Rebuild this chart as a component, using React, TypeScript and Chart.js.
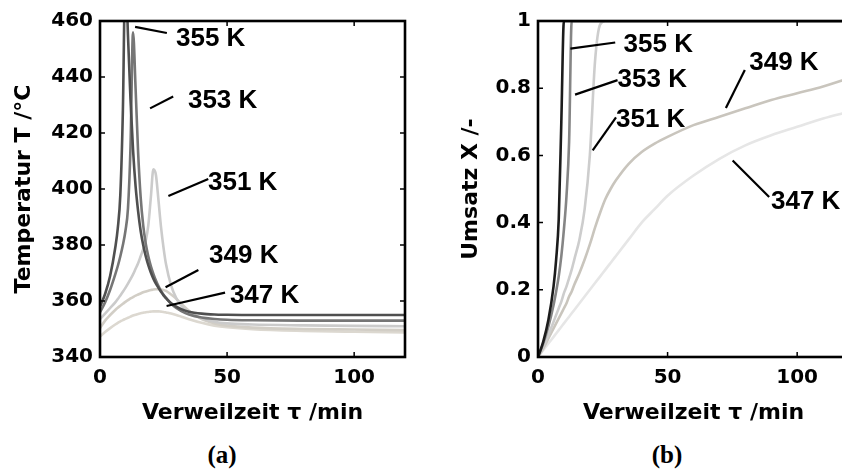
import React, { useEffect, useRef } from 'react';
import { Chart, registerables } from 'chart.js';

Chart.register(...registerables);

// ---------- data ----------
const SERIES = ['355 K', '353 K', '351 K', '349 K', '347 K'];

// Panel (a): temperature vs residence time
const TAU_A = [0, 2, 4, 6, 7, 8, 9, 10, 11, 12, 13, 14, 15, 16, 17, 18, 19, 20, 21, 22, 23, 24, 25, 26, 28, 30, 32, 35, 40, 45, 50, 60, 80, 100, 120];
const T_355 = [358, 362.5, 369, 379, 386, 398, 428, 480, 455, 432, 414, 401, 392, 385, 380, 376, 372.8, 370.2, 368, 366.2, 364.7, 363.3, 362, 361, 359.2, 358, 357.1, 356.2, 355.5, 355.2, 355.1, 355, 355, 355, 355];
const T_353 = [356, 359.5, 364, 369.5, 372.5, 376, 380, 385, 393, 415, 456, 436, 413, 397, 387, 380.5, 376, 372.5, 369.7, 367.3, 365.3, 363.6, 362.2, 361, 359, 357.5, 356.4, 355.2, 354.1, 353.6, 353.3, 353.1, 353, 353, 353];
const T_351 = [353.5, 355.5, 357.5, 359.5, 360.7, 362, 363.3, 364.7, 366.2, 367.8, 369.5, 371.5, 373.5, 376, 378.5, 381.5, 387, 397, 407, 405, 396, 386.5, 379, 373, 365.5, 361, 358.3, 356, 353.8, 352.6, 352, 351.6, 351.3, 351.1, 351];
const T_349 = [350.3, 353, 355, 356.8, 357.6, 358.3, 359, 359.7, 360.3, 360.9, 361.4, 361.9, 362.3, 362.7, 363.1, 363.4, 363.7, 363.9, 364.1, 364.2, 364.2, 364.1, 363.9, 363.6, 362.3, 360.8, 359, 356.5, 353.5, 352, 351.2, 350.5, 350, 349.8, 349.6];
const T_347 = [347.3, 348.9, 350.3, 351.6, 352.2, 352.7, 353.2, 353.6, 354, 354.4, 354.8, 355.1, 355.4, 355.6, 355.8, 356, 356.1, 356.2, 356.3, 356.3, 356.3, 356.2, 356.1, 355.9, 355.5, 355, 354.4, 353.5, 352.2, 351.2, 350.6, 349.9, 349.3, 349, 348.8];

// Panel (b): conversion vs residence time
const TAU_B = [0, 2, 4, 6, 7, 8, 9, 10, 11, 12, 13, 14, 16, 18, 20, 22, 24, 26, 28, 30, 35, 40, 45, 50, 60, 70, 80, 90, 100, 110, 120];
const X_355 = [0, 0.045, 0.11, 0.21, 0.29, 0.41, 0.7, 1, 1, 1, 1, 1, 1, 1, 1, 1, 1, 1, 1, 1, 1, 1, 1, 1, 1, 1, 1, 1, 1, 1, 1];
const X_353 = [0, 0.04, 0.09, 0.155, 0.195, 0.24, 0.3, 0.38, 0.48, 0.64, 1, 1, 1, 1, 1, 1, 1, 1, 1, 1, 1, 1, 1, 1, 1, 1, 1, 1, 1, 1, 1];
const X_351 = [0, 0.03, 0.065, 0.105, 0.125, 0.145, 0.165, 0.19, 0.21, 0.235, 0.26, 0.29, 0.35, 0.44, 0.6, 0.88, 0.99, 1, 1, 1, 1, 1, 1, 1, 1, 1, 1, 1, 1, 1, 1];
const X_349 = [0, 0.025, 0.055, 0.085, 0.1, 0.115, 0.13, 0.145, 0.16, 0.18, 0.195, 0.215, 0.25, 0.29, 0.335, 0.385, 0.43, 0.47, 0.5, 0.525, 0.575, 0.61, 0.635, 0.655, 0.69, 0.715, 0.74, 0.765, 0.785, 0.805, 0.83];
const X_347 = [0, 0.02, 0.04, 0.06, 0.07, 0.08, 0.09, 0.1, 0.11, 0.12, 0.13, 0.14, 0.16, 0.18, 0.2, 0.22, 0.24, 0.26, 0.28, 0.3, 0.35, 0.4, 0.44, 0.48, 0.54, 0.59, 0.63, 0.66, 0.685, 0.71, 0.73];

// ticks
const TAU_TICKS = [0, 50, 100];
const T_TICKS = [340, 360, 380, 400, 420, 440, 460];
const X_TICKS = [0, 0.2, 0.4, 0.6, 0.8, 1];
const X_TICK_LABELS = ['0', '0.2', '0.4', '0.6', '0.8', '1'];

// ---------- styles ----------
const COLORS_A = ['#4f4f4f', '#767676', '#cbcbcb', '#d2cec6', '#dcd8d0'];
const COLORS_B = ['#1c1c1c', '#858585', '#cdcdcd', '#c9c5bd', '#e6e6e6'];

// curve labels: text anchor and leader line, in data coordinates
const LABELS_A = [
  { text: '355 K', at: [29.9, 453.9], from: [13.8, 457.9], to: [26.3, 455.7] },
  { text: '353 K', at: [34.6, 431.8], from: [19.7, 428.8], to: [28.8, 433.0] },
  { text: '351 K', at: [42.5, 402.5], from: [26.9, 397.5], to: [42.6, 403.6] },
  { text: '349 K', at: [42.9, 376.4], from: [25.8, 364.9], to: [38.7, 371.1] },
  { text: '347 K', at: [51.1, 362.1], from: [26.2, 358.2], to: [49.2, 363.0] },
];
const LABELS_B = [
  { text: '355 K', at: [33.0, 0.933], from: [12.5, 0.918], to: [29.8, 0.936] },
  { text: '353 K', at: [30.7, 0.829], from: [14.3, 0.781], to: [30.7, 0.824] },
  { text: '351 K', at: [30.1, 0.71], from: [21.1, 0.615], to: [30.1, 0.713] },
  { text: '349 K', at: [81.5, 0.879], from: [72.5, 0.741], to: [79.8, 0.854] },
  { text: '347 K', at: [89.9, 0.466], from: [75.1, 0.585], to: [89.2, 0.476] },
];

const TICK_FONT = { family: "'DejaVu Sans', sans-serif", size: 20, weight: 'bold' as const };
const TITLE_FONT = { family: "'DejaVu Sans', sans-serif", size: 22, weight: 'bold' as const };
const LABEL_FONT = "bold 26px 'Liberation Sans', Arial, sans-serif";

const framePlugin = {
  id: 'frame',
  afterDatasetsDraw(chart: any, _args: any, opts: any) {
    const { ctx, chartArea } = chart;
    const { left, right, top, bottom } = chartArea;
    const xs = chart.scales.x;
    const ys = chart.scales.y;
    ctx.save();
    ctx.strokeStyle = '#000';
    ctx.lineWidth = 1.5;
    const tl = 5;
    xs.ticks.forEach((t: any) => {
      const p = xs.getPixelForValue(t.value);
      ctx.beginPath();
      ctx.moveTo(p, bottom);
      ctx.lineTo(p, bottom - tl);
      ctx.moveTo(p, top);
      ctx.lineTo(p, top + tl);
      ctx.stroke();
    });
    ys.ticks.forEach((t: any) => {
      const p = ys.getPixelForValue(t.value);
      ctx.beginPath();
      ctx.moveTo(left, p);
      ctx.lineTo(left + tl, p);
      ctx.moveTo(right, p);
      ctx.lineTo(right - tl, p);
      ctx.stroke();
    });
    ctx.lineWidth = 2.6;
    ctx.strokeRect(left, top, right - left, bottom - top);

    ctx.lineWidth = 2.2;
    ctx.fillStyle = '#000';
    ctx.font = LABEL_FONT;
    ctx.textAlign = 'left';
    ctx.textBaseline = 'middle';
    (opts.labels || []).forEach((l: any) => {
      ctx.beginPath();
      ctx.moveTo(xs.getPixelForValue(l.from[0]), ys.getPixelForValue(l.from[1]));
      ctx.lineTo(xs.getPixelForValue(l.to[0]), ys.getPixelForValue(l.to[1]));
      ctx.stroke();
      ctx.fillText(l.text, xs.getPixelForValue(l.at[0]), ys.getPixelForValue(l.at[1]) + 1);
    });
    ctx.restore();
  },
};

function makeConfig(opts: {
  tau: number[];
  series: number[][];
  colors: string[];
  yMin: number;
  yMax: number;
  yTicks: number[];
  yLabel: (v: number) => string;
  yTitle: string;
  yWidth: number;
  yTitlePad: number;
  rightPad: number;
  labels: any[];
}) {
  return {
    type: 'line' as const,
    data: {
      datasets: opts.series.map((vals, si) => ({
        label: SERIES[si],
        data: opts.tau.map((t, i) => ({ x: t, y: vals[i] })),
        borderColor: opts.colors[si],
        backgroundColor: opts.colors[si],
        borderWidth: 2.6,
        pointRadius: 0,
        cubicInterpolationMode: 'monotone' as const,
        fill: false,
        clip: 0,
      })),
    },
    options: {
      animation: false as const,
      responsive: false,
      maintainAspectRatio: false,
      devicePixelRatio: 1,
      events: [],
      layout: { padding: { top: 21, right: opts.rightPad, bottom: 0, left: 0 } },
      plugins: {
        legend: { display: false },
        tooltip: { enabled: false },
        frame: { labels: opts.labels },
      },
      scales: {
        x: {
          type: 'linear' as const,
          min: 0,
          max: 120,
          grid: { display: false, drawTicks: false },
          border: { display: false },
          afterBuildTicks: (s: any) => {
            s.ticks = TAU_TICKS.map((v) => ({ value: v }));
          },
          afterFit: (s: any) => {
            s.height = 73;
          },
          ticks: {
            color: '#000',
            font: TICK_FONT,
            padding: 9,
            maxRotation: 0,
            autoSkip: false,
            callback: (v: any) => String(v),
          },
          title: {
            display: true,
            text: 'Verweilzeit τ /min',
            color: '#000',
            font: TITLE_FONT,
            padding: { top: 0, bottom: 4 },
          },
        },
        y: {
          type: 'linear' as const,
          min: opts.yMin,
          max: opts.yMax,
          grid: { display: false, drawTicks: false },
          border: { display: false },
          afterBuildTicks: (s: any) => {
            s.ticks = opts.yTicks.map((v) => ({ value: v }));
          },
          afterFit: (s: any) => {
            s.width = opts.yWidth;
          },
          ticks: {
            color: '#000',
            font: TICK_FONT,
            padding: 7,
            autoSkip: false,
            callback: (v: any) => opts.yLabel(Number(v)),
          },
          title: {
            display: true,
            text: opts.yTitle,
            color: '#000',
            font: TITLE_FONT,
            padding: { top: opts.yTitlePad, bottom: 0 },
          },
        },
      },
    },
    plugins: [framePlugin],
  };
}

const captionStyle = (cx: number): React.CSSProperties => ({
  position: 'absolute',
  left: cx - 50,
  top: 442,
  width: 100,
  textAlign: 'center',
  fontFamily: "'Liberation Serif', 'Times New Roman', serif",
  fontWeight: 'bold',
  fontSize: 25,
  lineHeight: '25px',
  color: '#000',
});

export default function App() {
  const refA = useRef<HTMLCanvasElement>(null);
  const refB = useRef<HTMLCanvasElement>(null);

  useEffect(() => {
    const a = new Chart(
      refA.current as HTMLCanvasElement,
      makeConfig({
        tau: TAU_A,
        series: [T_355, T_353, T_351, T_349, T_347],
        colors: COLORS_A,
        yMin: 340,
        yMax: 460,
        yTicks: T_TICKS,
        yLabel: (v) => String(v),
        yTitle: 'Temperatur T /°C',
        yWidth: 100,
        yTitlePad: 11,
        rightPad: 16,
        labels: LABELS_A,
      }) as any
    );
    const b = new Chart(
      refB.current as HTMLCanvasElement,
      makeConfig({
        tau: TAU_B,
        series: [X_355, X_353, X_351, X_349, X_347],
        colors: COLORS_B,
        yMin: 0,
        yMax: 1,
        yTicks: X_TICKS,
        yLabel: (v) => X_TICK_LABELS[X_TICKS.findIndex((t) => Math.abs(t - v) < 1e-9)] ?? String(v),
        yTitle: 'Umsatz X /-',
        yWidth: 117,
        yTitlePad: 37,
        rightPad: 12,
        labels: LABELS_B,
      }) as any
    );
    return () => {
      a.destroy();
      b.destroy();
    };
  }, []);

  return (
    <div
      style={{
        position: 'fixed',
        left: 0,
        top: 0,
        width: 842,
        height: 470,
        overflow: 'hidden',
        background: '#fff',
      }}
    >
      <canvas
        ref={refA}
        width={421}
        height={430}
        style={{ position: 'absolute', left: 0, top: 0, width: 421, height: 430 }}
      />
      <canvas
        ref={refB}
        width={440}
        height={430}
        style={{ position: 'absolute', left: 421, top: 0, width: 440, height: 430 }}
      />
      <div style={captionStyle(222)}>(a)</div>
      <div style={captionStyle(667)}>(b)</div>
    </div>
  );
}
